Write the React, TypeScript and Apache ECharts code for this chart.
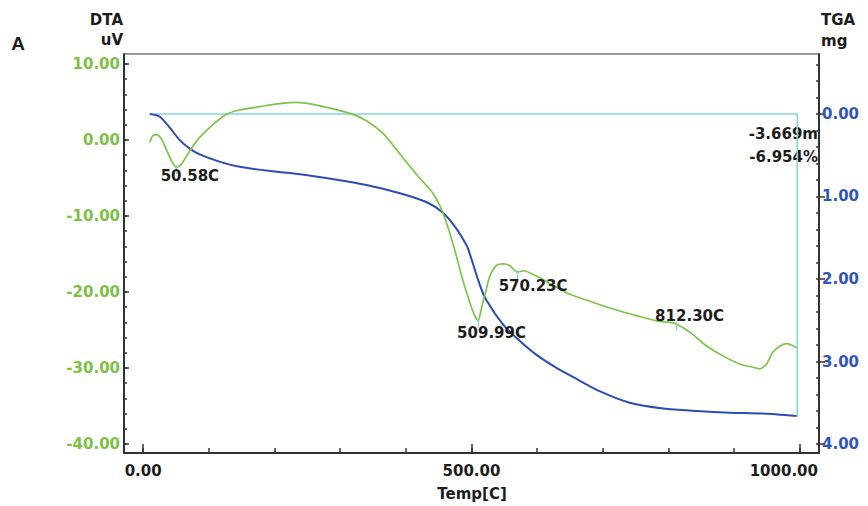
import React, { useEffect, useRef } from "react";
import * as echarts from "echarts";

// TGA curve (mg loss, right axis, inverted)
const tgaTemp = [10, 25, 41, 56, 71, 86, 117, 147, 193, 239, 290, 340, 391, 432, 457, 477, 493, 498, 513, 523, 548, 572, 599, 630, 655, 695, 741, 792, 843, 893, 944, 995];
const tgaMg = [0.0, 0.03, 0.17, 0.32, 0.42, 0.49, 0.58, 0.64, 0.69, 0.73, 0.79, 0.86, 0.96, 1.07, 1.2, 1.39, 1.6, 1.71, 2.08, 2.26, 2.55, 2.74, 2.92, 3.08, 3.19, 3.36, 3.5, 3.57, 3.6, 3.62, 3.63, 3.66];

// DTA curve (uV, left axis)
const dtaTemp = [10, 15, 20, 28, 36, 43, 50.6, 58, 71, 86, 107, 127, 147, 178, 208, 234, 264, 315, 340, 366, 391, 416, 442, 457, 472, 487, 502, 510, 515, 520, 528, 538, 548, 558, 570, 579, 599, 630, 650, 700, 726, 751, 782, 802, 812, 833, 858, 883, 909, 929, 939, 949, 959, 970, 980, 995];
const dtaUv = [-0.3, 0.6, 0.7, 0.1, -1.4, -2.7, -3.6, -3.2, -1.4, 0.35, 2.1, 3.4, 3.95, 4.4, 4.8, 4.95, 4.6, 3.5, 2.55, 0.8, -1.84, -4.5, -7.1, -9.7, -13.7, -18.5, -22.5, -23.8, -22.2, -20.5, -17.9, -16.5, -16.3, -16.5, -17.4, -17.2, -17.9, -19.4, -20.3, -21.8, -22.5, -23.1, -23.8, -24.0, -24.2, -25.3, -27.1, -28.4, -29.5, -29.9, -30.1, -29.5, -27.9, -27.1, -26.8, -27.3];

// Baseline / mass-loss step (cyan)
const baseTemp = [18, 996, 996];
const baseMg = [0, 0, 3.669];

// Peak annotations
const peakTemp = [50.58, 509.99, 570.23, 812.3];
const peakUv = [-3.6, -23.8, -17.4, -24.2];
const peakLabels = ["50.58C", "509.99C", "570.23C", "812.30C"];

// Ticks
const tempTicks = [0, 500, 1000];
const tempMinorTicks = [0, 100, 200, 300, 400, 500, 600, 700, 800, 900, 1000];
const dtaTicks = [-40, -30, -20, -10, 0, 10];
const dtaMinorTicks = [-40, -38, -36, -34, -32, -30, -28, -26, -24, -22, -20, -18, -16, -14, -12, -10, -8, -6, -4, -2, 0, 2, 4, 6, 8, 10];
const tgaTicks = [0, 1, 2, 3, 4];
const tgaMinorTicks = [-0.6, -0.4, -0.2, 0, 0.2, 0.4, 0.6, 0.8, 1.0, 1.2, 1.4, 1.6, 1.8, 2.0, 2.2, 2.4, 2.6, 2.8, 3.0, 3.2, 3.4, 3.6, 3.8, 4.0];

const lossTexts = ["-3.669m", "-6.954%"];

const FONT = "'DejaVu Sans', sans-serif";
const GREEN = "#7cc044";
const GREEN_LINE = "#7cc449";
const BLUE = "#2f56b6";
const BLUE_LINE = "#2d4db3";
const CYAN = "#86d6d6";
const INK = "#1c1c1c";

export default function App() {
  const ref = useRef<HTMLDivElement>(null);

  useEffect(() => {
    if (!ref.current) return;
    const chart = echarts.init(ref.current, undefined, { renderer: "svg" });

    const xMin = -29.2;
    const xMax = 1029.2;
    const dMin = -41.18;
    const dMax = 11.32;
    const tMin = -0.727;
    const tMax = 4.109;

    const labelOffsets = [
      [13.5, 9],
      [13.5, 12],
      [15.5, 14],
      [13, -8],
    ];

    const option: any = {
      animation: false,
      backgroundColor: "#ffffff",
      grid: {
        left: 124,
        right: 49,
        top: 54,
        bottom: 53,
        show: true,
        borderColor: "#333",
        borderWidth: 1,
        backgroundColor: "transparent",
      },
      xAxis: [
        {
          type: "value",
          min: xMin,
          max: xMax,
          position: "bottom",
          axisLine: { show: true, onZero: false, lineStyle: { color: "#333", width: 2 } },
          axisTick: { show: true, inside: true, length: 9, customValues: tempTicks, lineStyle: { color: "#333", width: 1.5 } },
          axisLabel: {
            show: true,
            customValues: tempTicks,
            margin: 10,
            color: INK,
            fontFamily: FONT,
            fontWeight: "bold",
            fontSize: 15,
            formatter: (v: number) => (v === 1000 ? "{r|" + v.toFixed(2) + "}" : v.toFixed(2)),
            rich: {
              r: { padding: [0, 32, 0, 0], color: INK, fontFamily: FONT, fontWeight: "bold", fontSize: 15 },
            },
          },
          splitLine: { show: false },
        },
        {
          type: "value",
          min: xMin,
          max: xMax,
          position: "bottom",
          axisLine: { show: false, onZero: false },
          axisTick: { show: true, inside: true, length: 5, customValues: tempMinorTicks, lineStyle: { color: "#333", width: 1.5 } },
          axisLabel: { show: false },
          splitLine: { show: false },
        },
      ],
      yAxis: [
        {
          type: "value",
          min: dMin,
          max: dMax,
          position: "left",
          axisLine: { show: true, onZero: false, lineStyle: { color: "#333", width: 2 } },
          axisTick: { show: true, inside: true, length: 5, customValues: dtaTicks, lineStyle: { color: "#333", width: 1.5 } },
          axisLabel: {
            show: true,
            customValues: dtaTicks,
            margin: 4,
            color: GREEN,
            fontFamily: FONT,
            fontWeight: "bold",
            fontSize: 15,
            formatter: (v: number) => v.toFixed(2),
          },
          splitLine: { show: false },
        },
        {
          type: "value",
          min: dMin,
          max: dMax,
          position: "left",
          axisLine: { show: false, onZero: false },
          axisTick: { show: true, inside: true, length: 3, customValues: dtaMinorTicks, lineStyle: { color: "#333", width: 1.5 } },
          axisLabel: { show: false },
          splitLine: { show: false },
        },
        {
          type: "value",
          min: tMin,
          max: tMax,
          inverse: true,
          position: "right",
          axisLine: { show: true, onZero: false, lineStyle: { color: "#333", width: 2 } },
          axisTick: { show: true, inside: false, length: 6, customValues: tgaTicks, lineStyle: { color: "#333", width: 1.5 } },
          axisLabel: {
            show: true,
            customValues: tgaTicks,
            margin: 3,
            color: BLUE,
            fontFamily: FONT,
            fontWeight: "bold",
            fontSize: 15,
            formatter: (v: number) => v.toFixed(2),
          },
          splitLine: { show: false },
        },
        {
          type: "value",
          min: tMin,
          max: tMax,
          inverse: true,
          position: "right",
          axisLine: { show: false, onZero: false },
          axisTick: { show: true, inside: true, length: 3, customValues: tgaMinorTicks, lineStyle: { color: "#333", width: 1.5 } },
          axisLabel: { show: false },
          splitLine: { show: false },
        },
      ],
      series: [
        {
          name: "baseline",
          type: "line",
          xAxisIndex: 0,
          yAxisIndex: 2,
          data: baseTemp.map((t, i) => [t, baseMg[i]]),
          showSymbol: false,
          lineStyle: { color: CYAN, width: 1.5 },
          silent: true,
          z: 2,
        },
        {
          name: "TGA",
          type: "line",
          xAxisIndex: 0,
          yAxisIndex: 2,
          data: tgaTemp.map((t, i) => [t, tgaMg[i]]),
          showSymbol: false,
          smooth: 0.25,
          lineStyle: { color: BLUE_LINE, width: 2 },
          z: 3,
        },
        {
          name: "DTA",
          type: "line",
          xAxisIndex: 0,
          yAxisIndex: 0,
          data: dtaTemp.map((t, i) => [t, dtaUv[i]]),
          showSymbol: false,
          smooth: 0.25,
          lineStyle: { color: GREEN_LINE, width: 1.7 },
          z: 4,
          markLine: {
            silent: true,
            symbol: ["none", "none"],
            label: { show: false },
            lineStyle: { color: CYAN, width: 1.2, type: "solid" },
            data: peakTemp.map((t, i) => [
              { coord: [t, peakUv[i] + 0.3] },
              { coord: [t, peakUv[i] - 0.9] },
            ]),
          },
          markPoint: {
            silent: true,
            symbol: "circle",
            symbolSize: 1,
            itemStyle: { color: "rgba(0,0,0,0)" },
            data: peakTemp.map((t, i) => ({
              name: peakLabels[i],
              coord: [t, peakUv[i]],
              label: {
                show: true,
                position: "inside",
                offset: labelOffsets[i],
                formatter: peakLabels[i],
                color: INK,
                fontFamily: FONT,
                fontWeight: "bold",
                fontSize: 15,
              },
            })),
          },
        },
      ],
      graphic: [
        {
          type: "text",
          style: { x: 18, y: 43, text: "A", textAlign: "center", textVerticalAlign: "middle", fill: INK, font: "bold 19px 'Liberation Sans', Arial, sans-serif" },
        },
        {
          type: "text",
          style: { x: 123, y: 20, text: "DTA", textAlign: "right", textVerticalAlign: "middle", fill: INK, font: "bold 15px 'DejaVu Sans', sans-serif" },
        },
        {
          type: "text",
          style: { x: 123, y: 40, text: "uV", textAlign: "right", textVerticalAlign: "middle", fill: INK, font: "bold 15px 'DejaVu Sans', sans-serif" },
        },
        {
          type: "text",
          style: { x: 821, y: 20, text: "TGA", textAlign: "left", textVerticalAlign: "middle", fill: INK, font: "bold 15px 'DejaVu Sans', sans-serif" },
        },
        {
          type: "text",
          style: { x: 821, y: 41, text: "mg", textAlign: "left", textVerticalAlign: "middle", fill: INK, font: "bold 15px 'DejaVu Sans', sans-serif" },
        },
        {
          type: "text",
          style: { x: 818, y: 134, text: lossTexts[0], textAlign: "right", textVerticalAlign: "middle", fill: INK, font: "bold 15px 'DejaVu Sans', sans-serif" },
        },
        {
          type: "text",
          style: { x: 818, y: 157, text: lossTexts[1], textAlign: "right", textVerticalAlign: "middle", fill: INK, font: "bold 15px 'DejaVu Sans', sans-serif" },
        },
        {
          type: "text",
          style: { x: 472, y: 486, text: "Temp[C]", textAlign: "center", textVerticalAlign: "top", fill: INK, font: "bold 15px 'DejaVu Sans', sans-serif" },
        },
      ],
    };

    chart.setOption(option);
    return () => {
      chart.dispose();
    };
  }, []);

  return (
    <div
      ref={ref}
      style={{ position: "fixed", left: 0, top: 0, width: 868, height: 506, background: "#fff" }}
    />
  );
}
